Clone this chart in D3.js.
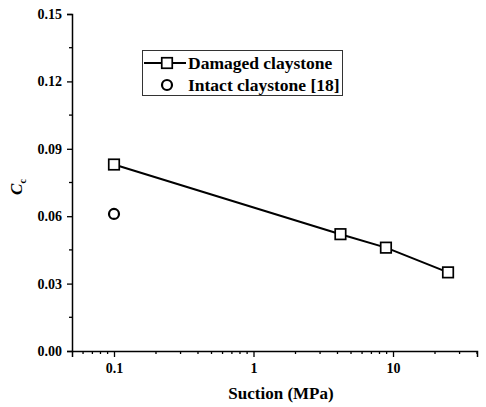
<!DOCTYPE html>
<html>
<head>
<meta charset="utf-8">
<script src="https://cdn.jsdelivr.net/npm/d3@7/dist/d3.min.js"></script>
<style>
  body { margin: 0; background: #fff; }
  text { font-family: "Liberation Serif", "Times New Roman", serif; font-weight: bold; }
</style>
</head>
<body>
<script>
// data
var damagedSuction = [0.1, 4.2, 8.9, 24.8];
var damagedCc = [0.083, 0.052, 0.046, 0.035];
var intactSuction = [0.1];
var intactCc = [0.061];
var xMajorTicks = [0.1, 1, 10];
var xMinorTicks = [0.06, 0.07, 0.08, 0.09, 0.2, 0.3, 0.4, 0.5, 0.6, 0.7, 0.8, 0.9,
                   2, 3, 4, 5, 6, 7, 8, 9, 20, 30, 40];
var yMajorTicks = [0, 0.03, 0.06, 0.09, 0.12, 0.15];
var yMinorTicks = [0.015, 0.045, 0.075, 0.105, 0.135];
var legendLabels = ["Damaged claystone", "Intact claystone [18]"];

var w = 486, h = 407;

var svg = d3.select("body").append("svg")
  .attr("width", w)
  .attr("height", h);

var x = d3.scaleLog()
  .domain([0.05, 40])
  .range([72, 477]);

var y = d3.scaleLinear()
  .domain([0, 0.15])
  .range([351, 14]);

// x axis
var xg = svg.append("g").attr("transform", "translate(0," + y(0) + ")");
xg.call(d3.axisBottom(x).tickValues(xMajorTicks).tickSize(6).tickPadding(6)
    .tickFormat(function(d) { return d3.format("~g")(d); }));
xg.selectAll(".minor").data(xMinorTicks).enter().append("line")
  .attr("class", "minor")
  .attr("x1", function(d) { return x(d); })
  .attr("x2", function(d) { return x(d); })
  .attr("y1", 0).attr("y2", 3)
  .attr("stroke", "#000").attr("stroke-width", 1.3);

// y axis
var yg = svg.append("g").attr("transform", "translate(" + x(0.05) + ",0)");
yg.call(d3.axisLeft(y).tickValues(yMajorTicks).tickSize(5).tickPadding(5)
    .tickFormat(d3.format(".2f")));
yg.selectAll(".minor").data(yMinorTicks).enter().append("line")
  .attr("class", "minor")
  .attr("x1", 0).attr("x2", -3)
  .attr("y1", function(d) { return y(d); })
  .attr("y2", function(d) { return y(d); })
  .attr("stroke", "#000").attr("stroke-width", 1.3);

svg.selectAll(".domain").attr("stroke", "#000").attr("stroke-width", 1.5);
svg.selectAll(".tick line").attr("stroke", "#000").attr("stroke-width", 1.3);
svg.selectAll(".tick text")
  .attr("font-size", 14)
  .attr("fill", "#000");

// axis titles
svg.append("text")
  .attr("x", 281)
  .attr("y", 399)
  .attr("text-anchor", "middle")
  .attr("font-size", 17)
  .text("Suction (MPa)");

var ylab = svg.append("text")
  .attr("transform", "translate(22,187) rotate(-90)")
  .attr("text-anchor", "middle")
  .attr("font-size", 17);
ylab.append("tspan").attr("font-style", "italic").text("C");
ylab.append("tspan").attr("font-size", 10).attr("dy", 4).text("c");

// damaged line + squares
var pts = damagedSuction.map(function(d, i) { return [d, damagedCc[i]]; });
var line = d3.line()
  .x(function(d) { return x(d[0]); })
  .y(function(d) { return y(d[1]); });

svg.append("path")
  .datum(pts)
  .attr("d", line)
  .attr("fill", "none")
  .attr("stroke", "#000")
  .attr("stroke-width", 2);

var sq = 10.5;
svg.selectAll(".sq").data(pts).enter().append("rect")
  .attr("class", "sq")
  .attr("x", function(d) { return x(d[0]) - sq / 2; })
  .attr("y", function(d) { return y(d[1]) - sq / 2; })
  .attr("width", sq).attr("height", sq)
  .attr("fill", "#fff")
  .attr("stroke", "#000")
  .attr("stroke-width", 1.7);

// intact circles
svg.selectAll(".ci").data(intactSuction).enter().append("circle")
  .attr("class", "ci")
  .attr("cx", function(d) { return x(d); })
  .attr("cy", function(d, i) { return y(intactCc[i]); })
  .attr("r", 5)
  .attr("fill", "#fff")
  .attr("stroke", "#000")
  .attr("stroke-width", 2.2);

// legend
var lg = svg.append("g");
lg.append("rect")
  .attr("x", 142.5).attr("y", 50.5)
  .attr("width", 200).attr("height", 45)
  .attr("fill", "#fff")
  .attr("stroke", "#333")
  .attr("stroke-width", 1);

lg.append("line")
  .attr("x1", 144).attr("x2", 186)
  .attr("y1", 63).attr("y2", 63)
  .attr("stroke", "#000").attr("stroke-width", 2);
lg.append("rect")
  .attr("x", 167 - sq / 2).attr("y", 63 - sq / 2)
  .attr("width", sq).attr("height", sq)
  .attr("fill", "#fff").attr("stroke", "#000").attr("stroke-width", 1.7);
lg.append("circle")
  .attr("cx", 167).attr("cy", 85).attr("r", 5)
  .attr("fill", "#fff").attr("stroke", "#000").attr("stroke-width", 2.2);

lg.selectAll(".lt").data(legendLabels).enter().append("text")
  .attr("class", "lt")
  .attr("x", 188)
  .attr("y", function(d, i) { return 69 + i * 22; })
  .attr("font-size", 17.5)
  .text(function(d) { return d; });
</script>
</body>
</html>
